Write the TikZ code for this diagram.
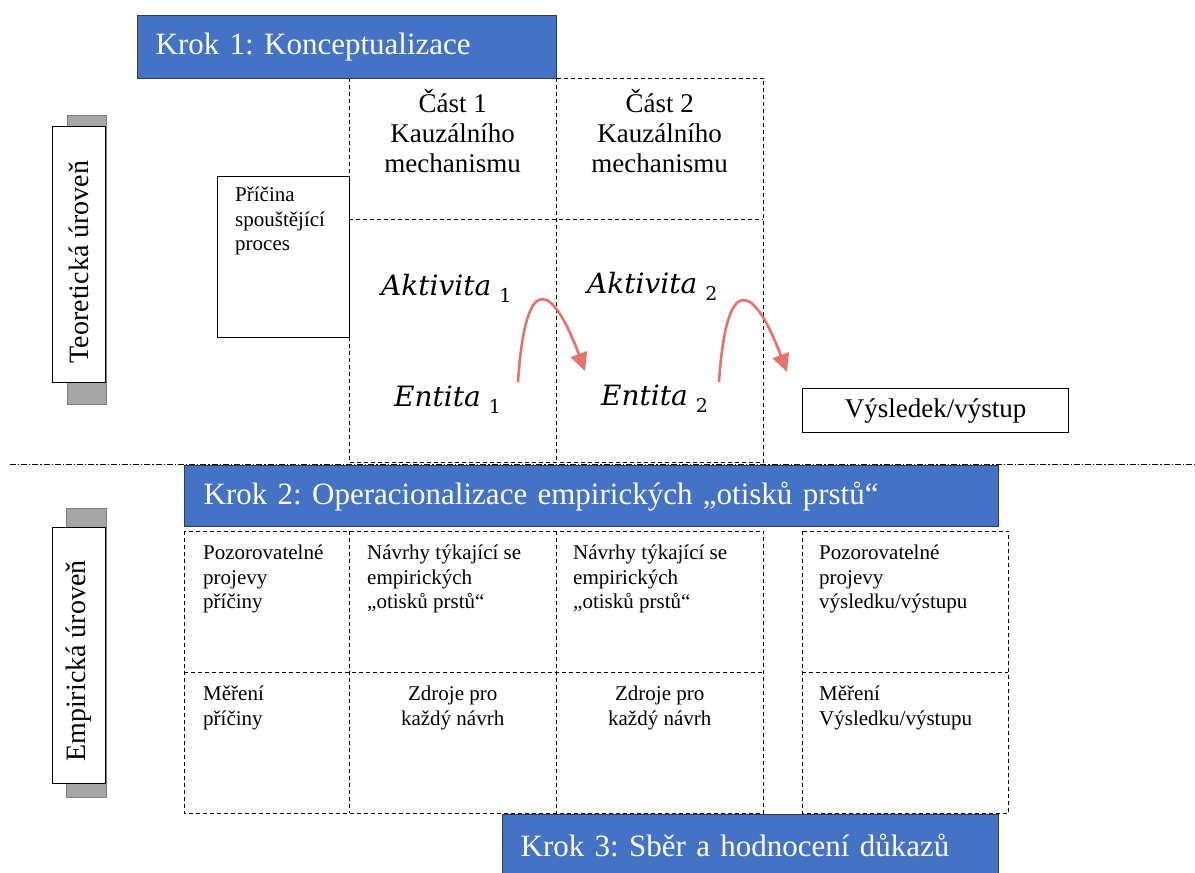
\documentclass[tikz,border=0pt]{standalone}
\usepackage{fontspec}
\setmainfont{Liberation Serif}
\newfontfamily\entfont{DejaVu Serif}
\usetikzlibrary{positioning,arrows.meta}
\definecolor{krokblue}{HTML}{4472C4}
\definecolor{krokedge}{HTML}{2F3B4F}
\definecolor{curvered}{HTML}{E8716E}
\definecolor{tabgray}{HTML}{A6A6A6}
\definecolor{tabedge}{HTML}{7F7F7F}
\frenchspacing
\tikzset{
  krok/.style={draw=krokedge, line width=1.3pt, fill=krokblue, text=white,
    font=\fontsize{31}{36}\selectfont, anchor=north west, align=left,
    inner xsep=18pt, inner ysep=0pt},
  cell/.style={anchor=north west, inner sep=0pt},
  gridline/.style={dash pattern=on 4pt off 3pt, line width=1pt},
  plainbox/.style={draw, line width=1.2pt, anchor=north west, inner sep=0pt},
  headtext/.style={font=\fontsize{27}{30}\selectfont, align=center, inner sep=0pt, anchor=north},
  smalltext/.style={font=\fontsize{21}{24.5}\selectfont, align=left, inner sep=0pt, anchor=north west},
  smallmid/.style={font=\fontsize{21}{24.5}\selectfont, align=center, inner sep=0pt, anchor=north},
  leveltext/.style={font=\fontsize{28}{30}\selectfont, rotate=90, inner sep=0pt},
  enttext/.style={font=\entfont\fontsize{28}{30}\selectfont\itshape, anchor=base west, inner sep=0pt},
  curve/.style={curvered, line width=2.6pt, -{Triangle[length=18pt,width=17pt]}},
}
\newcommand{\idx}[1]{\hspace{8pt}{\upshape\fontsize{19}{19}\selectfont\raisebox{-7pt}{#1}}}
\begin{document}
\begin{tikzpicture}[x=1pt,y=-1pt]
  \useasboundingbox (0,0) rectangle (1195,873);
  % urovne vlevo
  \filldraw[fill=tabgray, draw=tabedge, line width=1pt] (67,115) rectangle (106,404);
  \node[plainbox, fill=white, minimum width=53pt, minimum height=256pt] (teor) at (52,126) {};
  \node[leveltext] (teortext) at (79,262) {Teoretická úroveň};
  \filldraw[fill=tabgray, draw=tabedge, line width=1pt] (66,508) rectangle (106,797);
  \node[plainbox, fill=white, minimum width=53pt, minimum height=256pt] (emp) at (52,527) {};
  \node[leveltext] (emptext) at (79,661) {Empirická úroveň};

  % krok 1 a teoreticka mrizka
  \node[cell, minimum width=207pt, minimum height=141pt] (c11) at (349,78) {};
  \node[cell, minimum width=207pt, minimum height=141pt] (c12) at (556,78) {};
  \node[cell, minimum width=207pt, minimum height=243pt] (c21) at (349,219) {};
  \node[cell, minimum width=207pt, minimum height=243pt] (c22) at (556,219) {};
  \draw[gridline] (c11.north west) rectangle (c22.south east);
  \draw[gridline] (c11.north east) -- (c21.south east);
  \draw[gridline] (c11.south west) -- (c12.south east);
  \node[krok, minimum height=63pt, text width=383pt] (krok1) at (137,15) {Krok 1: Konceptualizace};
  \node[headtext, below=11pt of c11.north] (cast1) {Část 1\\Kauzálního\\mechanismu};
  \node[headtext, below=11pt of c12.north] (cast2) {Část 2\\Kauzálního\\mechanismu};

  \node[plainbox, minimum width=132pt, minimum height=161pt] (pricina) at (217,176) {};
  \node[smalltext, below right=11pt and 18pt of pricina.north west] (pricinatext)
    {Příčina\\spouštějící\\proces};
  \node[plainbox, minimum width=266pt, minimum height=44pt] (vysledek) at (802,388) {};
  \node[font=\fontsize{27}{30}\selectfont, inner sep=0pt] (vysledektext) at (vysledek.center) {Výsledek/výstup};

  \node[enttext] (akt1) at (381,295) {Aktivita\idx{1}};
  \node[enttext] (ent1) at (394,406) {Entita\idx{1}};
  \node[enttext] (akt2) at (587,293) {Aktivita\idx{2}};
  \node[enttext] (ent2) at (601,405) {Entita\idx{2}};
  \coordinate (a1s) at (518,382);
  \coordinate (a1e) at (585,371);
  \coordinate (a2s) at (719,382);
  \coordinate (a2e) at (787,372);
  \draw[curve] (a1s) .. controls (526,262) and (555,290) .. (a1e);
  \draw[curve] (a2s) .. controls (727,262) and (757,292) .. (a2e);

  \draw[line width=0.9pt, dash pattern=on 6pt off 2pt on 1.2pt off 2pt] (10,464) -- (1195,464);

  % krok 2 a empiricka mrizka
  \node[krok, minimum height=61pt, text width=776pt, inner xsep=19pt] (krok2) at (184,465)
    {Krok 2: Operacionalizace empirických „otisků prstů“};
  \node[cell, minimum width=165pt, minimum height=141pt] (d11) at (184,531) {};
  \node[cell, minimum width=207pt, minimum height=141pt] (d12) at (349,531) {};
  \node[cell, minimum width=207pt, minimum height=141pt] (d13) at (556,531) {};
  \node[cell, minimum width=206pt, minimum height=141pt] (d14) at (802,531) {};
  \node[cell, minimum width=165pt, minimum height=141pt] (d21) at (184,672) {};
  \node[cell, minimum width=207pt, minimum height=141pt] (d22) at (349,672) {};
  \node[cell, minimum width=207pt, minimum height=141pt] (d23) at (556,672) {};
  \node[cell, minimum width=206pt, minimum height=141pt] (d24) at (802,672) {};
  \draw[gridline] (d11.north west) rectangle (d23.south east);
  \draw[gridline] (d11.north east) -- (d21.south east);
  \draw[gridline] (d12.north east) -- (d22.south east);
  \draw[gridline] (d11.south west) -- (d13.south east);
  \draw[gridline] (d14.north west) rectangle (d24.south east);
  \draw[gridline] (d14.south west) -- (d14.south east);

  \node[smalltext, below right=14pt and 19pt of d11.north west] (t11) {Pozorovatelné\\projevy\\příčiny};
  \node[smalltext, below right=14pt and 18pt of d12.north west] (t12) {Návrhy týkající se\\empirických\\„otisků prstů“};
  \node[smalltext, below right=14pt and 17pt of d13.north west] (t13) {Návrhy týkající se\\empirických\\„otisků prstů“};
  \node[smalltext, below right=14pt and 17pt of d14.north west] (t14) {Pozorovatelné\\projevy\\výsledku/výstupu};
  \node[smalltext, below right=14pt and 19pt of d21.north west] (t21) {Měření\\příčiny};
  \node[smallmid, below=14pt of d22.north] (t22) {Zdroje pro\\každý návrh};
  \node[smallmid, below=14pt of d23.north] (t23) {Zdroje pro\\každý návrh};
  \node[smalltext, below right=14pt and 17pt of d24.north west] (t24) {Měření\\Výsledku/výstupu};

  % krok 3
  \node[krok, minimum height=62pt, text width=460pt] (krok3) at (502,814) {Krok 3: Sběr a hodnocení důkazů};
\end{tikzpicture}
\end{document}
